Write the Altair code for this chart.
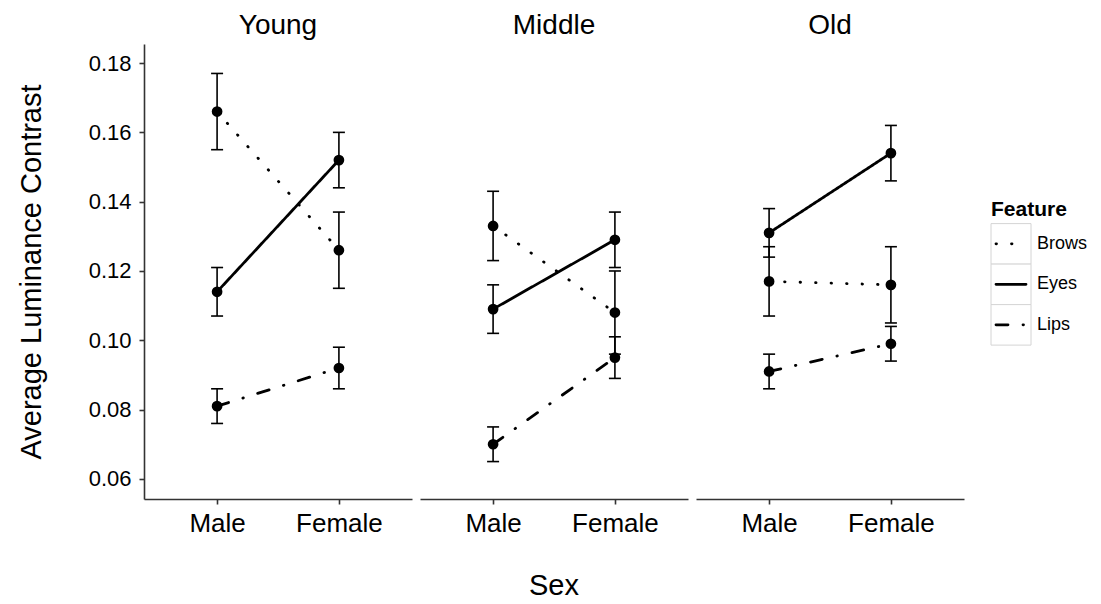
import altair as alt
import pandas as pd

ages = ["Young", "Middle", "Old"]
sexes = ["Male", "Female"]
features = ["Brows", "Eyes", "Lips"]

# mean luminance contrast, [Male, Female]
young_brows = [0.166, 0.126]
young_eyes = [0.114, 0.152]
young_lips = [0.081, 0.092]
middle_brows = [0.133, 0.108]
middle_eyes = [0.109, 0.129]
middle_lips = [0.070, 0.095]
old_brows = [0.117, 0.116]
old_eyes = [0.131, 0.154]
old_lips = [0.091, 0.099]

# error bar half-widths, [Male, Female]
young_brows_err = [0.011, 0.011]
young_eyes_err = [0.007, 0.008]
young_lips_err = [0.005, 0.006]
middle_brows_err = [0.010, 0.012]
middle_eyes_err = [0.007, 0.008]
middle_lips_err = [0.005, 0.006]
old_brows_err = [0.010, 0.011]
old_eyes_err = [0.007, 0.008]
old_lips_err = [0.005, 0.005]

y_ticks = [0.06, 0.08, 0.10, 0.12, 0.14, 0.16, 0.18]

means = {
    ("Young", "Brows"): young_brows, ("Young", "Eyes"): young_eyes, ("Young", "Lips"): young_lips,
    ("Middle", "Brows"): middle_brows, ("Middle", "Eyes"): middle_eyes, ("Middle", "Lips"): middle_lips,
    ("Old", "Brows"): old_brows, ("Old", "Eyes"): old_eyes, ("Old", "Lips"): old_lips,
}
errs = {
    ("Young", "Brows"): young_brows_err, ("Young", "Eyes"): young_eyes_err, ("Young", "Lips"): young_lips_err,
    ("Middle", "Brows"): middle_brows_err, ("Middle", "Eyes"): middle_eyes_err, ("Middle", "Lips"): middle_lips_err,
    ("Old", "Brows"): old_brows_err, ("Old", "Eyes"): old_eyes_err, ("Old", "Lips"): old_lips_err,
}

rows = []
for a in ages:
    for f in features:
        for i, s in enumerate(sexes):
            m = means[(a, f)][i]
            e = errs[(a, f)][i]
            rows.append({"Age": a, "Feature": f, "Sex": s, "mean": m, "lo": m - e, "hi": m + e})
df = pd.DataFrame(rows)

FONT = "Liberation Sans"
dash_range = [[0.5, 15], [1, 0], [12, 15, 0.5, 15]]
dash_scale = alt.Scale(domain=features, range=dash_range)

xenc = alt.X("Sex:N", sort=sexes, scale=alt.Scale(type="point", padding=0.6),
             axis=alt.Axis(title=None, labelAngle=0, labelFontSize=26, tickSize=5,
                           labelPadding=6))
yscale = alt.Scale(domain=[0.0542, 0.1855], nice=False, zero=False)
ytitle = "Average Luminance Contrast"
yaxis = alt.Axis(values=y_ticks, format=".2f", labelFontSize=22, tickSize=5, labelPadding=8,
                 titleFontSize=29, titlePadding=42, titleFontWeight="normal")

base = alt.Chart(df)
rules = base.mark_rule(color="black", strokeWidth=1.6).encode(
    x=xenc, y=alt.Y("lo:Q", scale=yscale, axis=yaxis, title=ytitle), y2="hi:Q")
tick_lo = base.mark_tick(color="black", thickness=1.6, size=12, opacity=1).encode(
    x=xenc, y=alt.Y("lo:Q", scale=yscale, title=ytitle))
tick_hi = base.mark_tick(color="black", thickness=1.6, size=12, opacity=1).encode(
    x=xenc, y=alt.Y("hi:Q", scale=yscale, title=ytitle))
lines = base.mark_line(color="black", strokeWidth=2.8, strokeCap="round").encode(
    x=xenc, y=alt.Y("mean:Q", scale=yscale, title=ytitle),
    strokeDash=alt.StrokeDash("Feature:N", scale=dash_scale, legend=None))
points = base.mark_circle(color="black", size=115, opacity=1).encode(
    x=xenc, y=alt.Y("mean:Q", scale=yscale, title=ytitle))

panel = alt.layer(rules, tick_lo, tick_hi, lines, points).properties(width=268, height=455)

facet = panel.facet(
    column=alt.Column("Age:N", sort=ages,
                      header=alt.Header(title="Sex", titleOrient="bottom", labelOrient="top",
                                        labelFontSize=28, labelFont=FONT, labelColor="black",
                                        labelPadding=4,
                                        titleFontSize=29, titleFont=FONT, titleColor="black",
                                        titleFontWeight="normal", titlePadding=26)),
    spacing=8,
)

# manual legend with key boxes
leg_df = pd.DataFrame({"Feature": features})
leg_scale = alt.Scale(domain=features, range=[179.6, 301.1], paddingInner=0, paddingOuter=0)
ly = alt.Y("Feature:N", sort=features, scale=leg_scale, axis=None)
ly_top = alt.Y("Feature:N", sort=features, scale=leg_scale, axis=None, bandPosition=0)
ly_mid = alt.Y("Feature:N", sort=features, scale=leg_scale, axis=None, bandPosition=0.5)
lbase = alt.Chart(leg_df)
boxes = lbase.mark_rect(fill="white", stroke="#d4d4d4", strokeWidth=1).encode(
    y=ly, x=alt.value(0), x2=alt.value(40))
keys = lbase.mark_rule(color="black", strokeWidth=2.8, strokeCap="round").encode(
    y=ly_mid, x=alt.value(5), x2=alt.value(35),
    strokeDash=alt.StrokeDash("Feature:N", scale=dash_scale, legend=None))
labels = lbase.mark_text(align="left", baseline="middle", fontSize=18, font=FONT, color="black").encode(
    y=ly_mid, x=alt.value(46), text="Feature:N")
ltitle = lbase.transform_filter(alt.datum.Feature == "Brows").mark_text(
    align="left", baseline="alphabetic", fontSize=21, fontWeight="bold", font=FONT,
    color="black", dy=-8).encode(y=ly_top, x=alt.value(0), text=alt.value("Feature"))
legend = alt.layer(boxes, keys, labels, ltitle).properties(width=40, height=455)

chart = alt.hconcat(facet, legend, spacing=26).properties(
    padding={"left": 9, "top": 4, "right": 5, "bottom": 0}
).configure_view(strokeWidth=0).configure_axis(
    grid=False, domainColor="#333333", domainWidth=1.6, tickColor="#333333", tickWidth=1.6,
    labelColor="black", titleColor="black", labelFont=FONT, titleFont=FONT
)

chart.save("out.html", embed_options={"renderer": "svg", "actions": False})
